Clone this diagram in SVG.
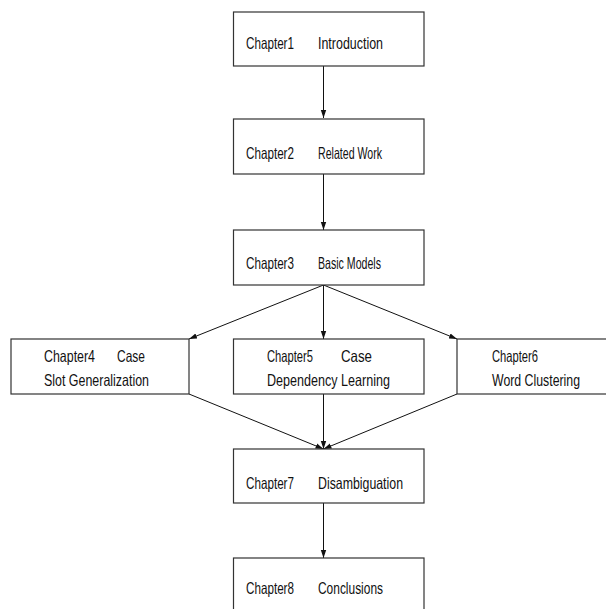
<svg xmlns="http://www.w3.org/2000/svg" width="606" height="609" viewBox="0 0 606 609">
<style>
.box{fill:#fff;stroke:#333;stroke-width:1.2}
.t{font-family:"Liberation Sans",Arial,sans-serif;font-size:16.5px;fill:#111}
.c{stroke:#111;stroke-width:1;fill:none}
</style>
<defs>
<marker id="ah" markerWidth="9" markerHeight="7" refX="8" refY="3.5" orient="auto" markerUnits="userSpaceOnUse">
<path d="M0,0.8 L8,3.5 L0,6.2 Z" fill="#111"/>
</marker>
</defs>
<rect width="606" height="609" fill="#fff"/>
<g id="connectors">
<line class="c" x1="323.5" y1="66" x2="323.5" y2="118" marker-end="url(#ah)"/>
<line class="c" x1="323.5" y1="174" x2="323.5" y2="230" marker-end="url(#ah)"/>
<line class="c" x1="323.5" y1="285" x2="189" y2="339" marker-end="url(#ah)"/>
<line class="c" x1="323.5" y1="285" x2="323.5" y2="339" marker-end="url(#ah)"/>
<line class="c" x1="323.5" y1="285" x2="457" y2="339" marker-end="url(#ah)"/>
<line class="c" x1="189" y1="394" x2="323.5" y2="449" marker-end="url(#ah)"/>
<line class="c" x1="323.5" y1="394" x2="323.5" y2="449" marker-end="url(#ah)"/>
<line class="c" x1="457" y1="394" x2="323.5" y2="449" marker-end="url(#ah)"/>
<line class="c" x1="323.5" y1="503" x2="323.5" y2="558" marker-end="url(#ah)"/>
</g>
<g id="n1">
<rect class="box" x="233.5" y="12" width="190.5" height="54"/>
<text class="t" x="246" y="49" textLength="48" lengthAdjust="spacingAndGlyphs">Chapter1</text>
<text class="t" x="318" y="49" textLength="65" lengthAdjust="spacingAndGlyphs">Introduction</text>
</g>
<g id="n2">
<rect class="box" x="233.5" y="119" width="190.5" height="55"/>
<text class="t" x="246" y="159" textLength="48" lengthAdjust="spacingAndGlyphs">Chapter2</text>
<text class="t" x="318" y="159" textLength="64" lengthAdjust="spacingAndGlyphs">Related Work</text>
</g>
<g id="n3">
<rect class="box" x="233.5" y="230" width="190.5" height="55"/>
<text class="t" x="246" y="269" textLength="48" lengthAdjust="spacingAndGlyphs">Chapter3</text>
<text class="t" x="318" y="269" textLength="63" lengthAdjust="spacingAndGlyphs">Basic Models</text>
</g>
<g id="n4">
<rect class="box" x="11" y="339" width="178" height="55"/>
<text class="t" x="44" y="362" textLength="51" lengthAdjust="spacingAndGlyphs">Chapter4</text>
<text class="t" x="117" y="362" textLength="28" lengthAdjust="spacingAndGlyphs">Case</text>
<text class="t" x="44" y="386" textLength="105" lengthAdjust="spacingAndGlyphs">Slot Generalization</text>
</g>
<g id="n5">
<rect class="box" x="233.5" y="339" width="190.5" height="55"/>
<text class="t" x="267" y="362" textLength="46" lengthAdjust="spacingAndGlyphs">Chapter5</text>
<text class="t" x="341" y="362" textLength="31" lengthAdjust="spacingAndGlyphs">Case</text>
<text class="t" x="267" y="386" textLength="123" lengthAdjust="spacingAndGlyphs">Dependency Learning</text>
</g>
<g id="n6">
<rect class="box" x="457" y="339" width="150" height="55"/>
<text class="t" x="492" y="362" textLength="46" lengthAdjust="spacingAndGlyphs">Chapter6</text>
<text class="t" x="492" y="386" textLength="88" lengthAdjust="spacingAndGlyphs">Word Clustering</text>
</g>
<g id="n7">
<rect class="box" x="233.5" y="449" width="190.5" height="54"/>
<text class="t" x="246" y="489" textLength="48" lengthAdjust="spacingAndGlyphs">Chapter7</text>
<text class="t" x="318" y="489" textLength="85" lengthAdjust="spacingAndGlyphs">Disambiguation</text>
</g>
<g id="n8">
<rect class="box" x="233.5" y="558" width="190.5" height="60"/>
<text class="t" x="246" y="594" textLength="48" lengthAdjust="spacingAndGlyphs">Chapter8</text>
<text class="t" x="318" y="594" textLength="65" lengthAdjust="spacingAndGlyphs">Conclusions</text>
</g>
</svg>
